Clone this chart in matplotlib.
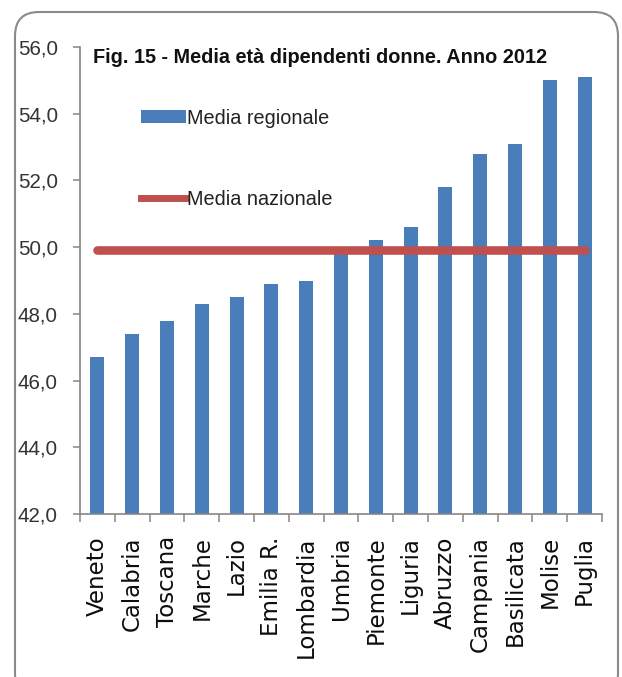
import numpy as np
import matplotlib
matplotlib.use("Agg")
import matplotlib.pyplot as plt
from matplotlib.patches import FancyBboxPatch, Patch
from matplotlib.lines import Line2D
from matplotlib.ticker import FixedLocator, FuncFormatter
from matplotlib.transforms import IdentityTransform

# average age of female employees by region, 2012
regioni = ["Veneto", "Calabria", "Toscana", "Marche", "Lazio", "Emilia R.",
           "Lombardia", "Umbria", "Piemonte", "Liguria", "Abruzzo",
           "Campania", "Basilicata", "Molise", "Puglia"]
media_regionale = [46.7, 47.4, 47.8, 48.3, 48.5, 48.9, 49.0, 49.8, 50.2,
                   50.6, 51.8, 52.8, 53.1, 55.0, 55.1]
media_nazionale = 49.9

titolo = "Fig. 15 - Media età dipendenti donne. Anno 2012"
y_ticks = [42, 44, 46, 48, 50, 52, 54, 56]

BLU = "#4a7ebb"
ROSSO = "#c0504d"
GRIGIO = "#868686"
SANS = "Liberation Sans"

W, H = 622, 677
fig = plt.figure(figsize=(W / 100, H / 100), dpi=100)
fig.patch.set_facecolor("white")

# axes box in pixels: x 80..602, y 47..514 (from top)
ax = fig.add_axes([80 / W, (H - 514) / H, 522 / W, 467 / H])

x = np.arange(len(regioni))
ax.bar(x, media_regionale, width=0.4, color=BLU, zorder=2)
ax.plot(x[[0, -1]], [media_nazionale, media_nazionale], color=ROSSO,
        lw=6.2, solid_capstyle="round", zorder=3)

ax.set_xlim(-0.5, len(regioni) - 0.5)
ax.set_ylim(y_ticks[0], y_ticks[-1])

# y axis
ax.set_yticks(y_ticks)
ax.yaxis.set_major_formatter(FuncFormatter(lambda v, p: f"{v:.1f}".replace(".", ",")))
ax.tick_params(axis="y", length=5, width=1.1, color=GRIGIO, pad=11,
               labelsize=14.8, labelcolor="#333333")
for lab in ax.get_yticklabels():
    lab.set_family(SANS)

# x axis: labels at centres, tick marks between categories
ax.set_xticks(x)
ax.set_xticklabels(regioni, rotation=90, fontsize=16.5, color="#0d0d0d",
                   family="DejaVu Sans")
ax.xaxis.set_minor_locator(FixedLocator(np.arange(-0.5, len(regioni), 1.0)))
ax.tick_params(axis="x", which="major", length=0, pad=16)
ax.tick_params(axis="x", which="minor", length=6, width=1.1, color=GRIGIO)

for s in ("top", "right"):
    ax.spines[s].set_visible(False)
for s in ("left", "bottom"):
    ax.spines[s].set_color(GRIGIO)
    ax.spines[s].set_linewidth(1.2)

ax.text(0.024, 0.966, titolo, transform=ax.transAxes, ha="left", va="baseline",
        fontsize=14.3, fontweight="bold", family=SANS, color="#111111")

handles = [Patch(facecolor=BLU, edgecolor="none"),
           Line2D([0], [0], color=ROSSO, lw=5)]
leg = ax.legend(handles, ["Media regionale", "Media nazionale"],
                loc="upper left", bbox_to_anchor=(0.117, 0.868), frameon=False,
                borderpad=0, borderaxespad=0, handlelength=2.26, handleheight=0.65,
                handletextpad=0.05, labelspacing=3.15,
                prop={"family": SANS, "size": 14.3})
for t in leg.get_texts():
    t.set_color("#222222")

# rounded border round the whole chart
frame = FancyBboxPatch((15, -20), 603, H - 12 + 20,
                       boxstyle="round,pad=0,rounding_size=24",
                       transform=IdentityTransform(), fill=False,
                       edgecolor="#8a8a8a", lw=1.5)
fig.add_artist(frame)

fig.savefig("out.png", dpi=100)
